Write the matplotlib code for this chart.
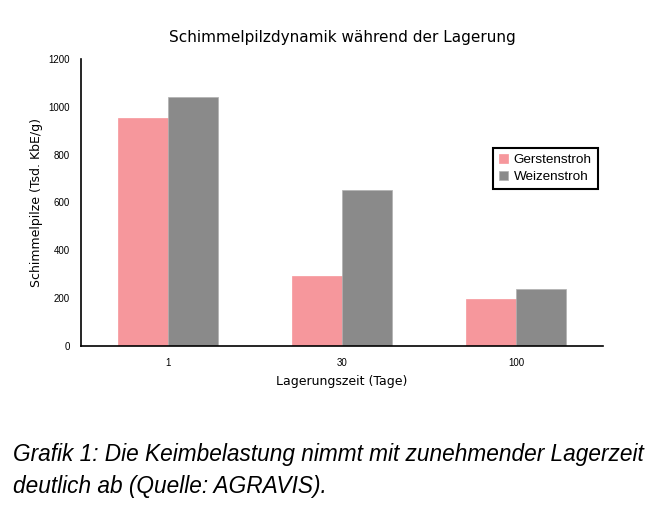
import matplotlib
matplotlib.use("Agg")
import matplotlib.pyplot as plt
import numpy as np

# =====================================================
# DATA
# =====================================================

days = ["1", "30", "100"]
gerstenstroh = [953, 293, 196]
weizenstroh = [1041, 652, 238]
yticks = [0, 200, 400, 600, 800, 1000, 1200]

# =====================================================
# PLOT
# =====================================================

narrow = "Liberation Sans"

fig = plt.figure(figsize=(6.52, 5.08), dpi=100)
ax = fig.add_axes([0.1242, 0.3189, 0.8006, 0.565])

x = np.arange(len(days)) + 0.5
w = 0.29

ax.bar(x - w / 2, gerstenstroh, width=w, color="#f6979c",
       edgecolor="#f6979c", linewidth=0.5, label="Gerstenstroh")
ax.bar(x + w / 2, weizenstroh, width=w, color="#8a8a8a",
       edgecolor="#b0b0b0", linewidth=0.5, label="Weizenstroh")

ax.set_xlim(0, 3)
ax.set_ylim(0, 1200)
ax.set_xticks(x)
ax.set_xticklabels(days, family=narrow, fontsize=7)
ax.set_yticks(yticks)
ax.set_yticklabels([str(v) for v in yticks], family=narrow, fontsize=7)
ax.tick_params(axis="x", length=0, pad=9)
ax.tick_params(axis="y", length=0, pad=8)

for s in ["top", "right"]:
    ax.spines[s].set_visible(False)
ax.spines["left"].set_linewidth(1.2)
ax.spines["bottom"].set_linewidth(1.2)

ax.set_title("Schimmelpilzdynamik während der Lagerung",
             fontsize=11, pad=12)
ax.set_xlabel("Lagerungszeit (Tage)", fontsize=9, labelpad=5)
ax.set_ylabel("Schimmelpilze (Tsd. KbE/g)", fontsize=9, labelpad=4)

leg = ax.legend(loc="upper left", bbox_to_anchor=(0.776, 0.715),
                fancybox=False, framealpha=1, edgecolor="black",
                prop={"family": narrow, "size": 9.7},
                handlelength=0.7, handleheight=0.7,
                handletextpad=0.4, borderpad=0.45, labelspacing=0.35)
leg.get_frame().set_linewidth(1.5)

fig.text(0.02, 0.073, "Grafik 1: Die Keimbelastung nimmt mit zunehmender Lagerzeit\n"
         "deutlich ab (Quelle: AGRAVIS).",
         family=narrow, style="italic", fontsize=16.3,
         linespacing=1.5, va="center", ha="left")

fig.savefig("out.png", dpi=100)
